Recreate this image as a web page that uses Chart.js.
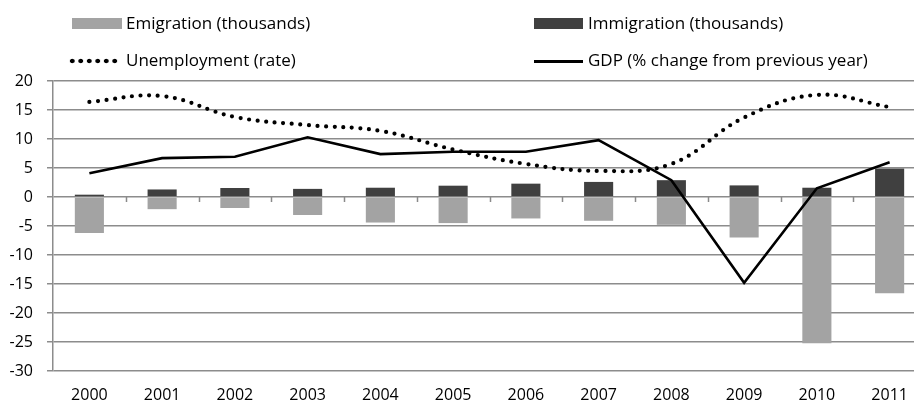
<!DOCTYPE html>
<html>
<head>
<meta charset="utf-8">
<script src="https://cdn.jsdelivr.net/npm/chart.js@4.4.1/dist/chart.umd.min.js"></script>
<style>
  html, body { margin: 0; padding: 0; background: #fff; overflow: hidden; width: 914px; height: 404px; }
  #wrap { position: relative; width: 914px; height: 404px; overflow: hidden; }
  canvas { position: absolute; left: 0; top: 0; }
  .lg { position: absolute; font-family: "Open Sans", Lato, sans-serif; font-size: 17px; color: #000; white-space: nowrap; line-height: 20px; }
  .sw { position: absolute; }
</style>
</head>
<body>
<div id="wrap">
  <canvas id="c" width="926" height="404" style="width:926px;height:404px"></canvas>
  <div class="sw" style="left:72px;top:18px;width:50px;height:11px;background:#a3a3a3"></div>
  <div class="lg" style="left:126px;top:13px">Emigration (thousands)</div>
  <div class="sw" style="left:534px;top:18px;width:49px;height:11px;background:#404040"></div>
  <div class="lg" style="left:588px;top:13px">Immigration (thousands)</div>
  <div class="sw" style="left:68px;top:58px;width:51px;height:6px;background-image:radial-gradient(circle at center, #000 2px, rgba(0,0,0,0) 2.6px);background-size:8.5px 6px;"></div>
  <div class="lg" style="left:126px;top:50px">Unemployment (rate)</div>
  <div class="sw" style="left:534px;top:60px;width:49px;height:3px;background:#000"></div>
  <div class="lg" style="left:588px;top:50px">GDP (% change from previous year)</div>
</div>
<script>
const years = ['2000','2001','2002','2003','2004','2005','2006','2007','2008','2009','2010','2011'];
const emigration = [-6.2, -2.1, -1.9, -3.1, -4.4, -4.5, -3.7, -4.1, -4.8, -7.0, -25.2, -16.6];
const immigration = [0.4, 1.3, 1.55, 1.4, 1.6, 1.95, 2.3, 2.6, 2.9, 2.0, 1.6, 4.9];
const unemployment = [16.4, 17.4, 13.8, 12.4, 11.4, 8.2, 5.7, 4.5, 5.7, 13.7, 17.6, 15.5];
const gdp = [4.1, 6.7, 6.95, 10.3, 7.4, 7.8, 7.8, 9.8, 2.9, -14.8, 1.5, 6.0];
const yMin = -30, yMax = 20, yStep = 5;

const zeroTicks = {
  id: 'zeroTicks',
  afterDatasetsDraw(chart) {
    const ctx = chart.ctx, xs = chart.scales.x, ys = chart.scales.y;
    const y0 = ys.getPixelForValue(0);
    ctx.save();
    ctx.strokeStyle = '#8a8a8a';
    ctx.lineWidth = 1.5;
    ctx.beginPath();
    for (let i = 1; i < years.length; i++) {
      const x = Math.round((xs.getPixelForValue(i - 1) + xs.getPixelForValue(i)) / 2) + 0.5;
      ctx.moveTo(x, y0);
      ctx.lineTo(x, y0 + 5);
    }
    ctx.stroke();
    ctx.restore();
  }
};

new Chart(document.getElementById('c'), {
  type: 'bar',
  data: {
    labels: years,
    datasets: [
      { type: 'line', label: 'Unemployment (rate)', data: unemployment, borderColor: '#000', borderWidth: 4.2,
        borderDash: [0, 8.6], borderCapStyle: 'round', tension: 0.4, pointRadius: 0, fill: false, order: 0 },
      { type: 'line', label: 'GDP (% change from previous year)', data: gdp, borderColor: '#000', borderWidth: 2.6,
        tension: 0, pointRadius: 0, fill: false, order: 0 },
      { label: 'Emigration (thousands)', data: emigration, backgroundColor: '#a3a3a3', grouped: false,
        categoryPercentage: 1, barPercentage: 0.4, order: 1 },
      { label: 'Immigration (thousands)', data: immigration, backgroundColor: '#404040', grouped: false,
        categoryPercentage: 1, barPercentage: 0.4, order: 1 }
    ]
  },
  options: {
    responsive: false,
    animation: false,
    layout: { padding: { top: 81, left: 0, right: 0, bottom: 0 } },
    plugins: { legend: { display: false }, tooltip: { enabled: false } },
    scales: {
      x: {
        grid: { display: false, drawTicks: false },
        border: { display: false },
        ticks: { padding: 15, color: '#000', font: { family: 'Open Sans', size: 16 } },
        afterFit(s) { s.height = 33; }
      },
      y: {
        min: yMin, max: yMax,
        ticks: { stepSize: yStep, padding: 14, color: '#000', font: { family: 'Open Sans', size: 16 } },
        grid: { color: '#8c8c8c', lineWidth: 1.5, tickLength: 6, drawTicks: true },
        border: { display: true, color: '#8c8c8c', width: 1.5 },
        afterFit(s) { s.width = 53; }
      }
    }
  },
  plugins: [zeroTicks]
});
</script>
</body>
</html>
